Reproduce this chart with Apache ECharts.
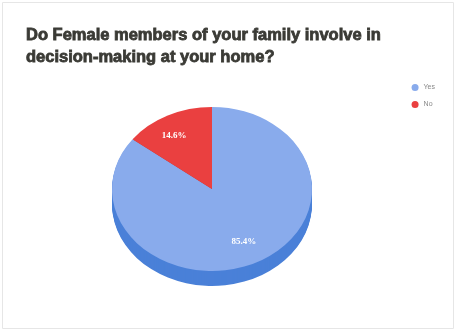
<!DOCTYPE html>
<html>
<head>
<meta charset="utf-8">
<script src="https://cdn.jsdelivr.net/npm/echarts@6/dist/echarts.min.js"></script>
<style>
html, body { margin: 0; padding: 0; background: #fff; }
#main { width: 456px; height: 331px; }
</style>
</head>
<body>
<div id="main"></div>
<script>
var categories = ['Yes', 'No'];
var shares = [85.4, 14.6];
var labels = ['85.4%', '14.6%'];

var colors = ['#89abec', '#ea4040'];
var sideColors = ['#4a80d8', '#b83030'];

var chart = echarts.init(document.getElementById('main'));

var cx = 212, cy = 189, r = 100, squash = 0.82, depth = 15;
var total = shares.reduce(function (a, b) { return a + b; }, 0);

// angles go counterclockwise from 12 o'clock, 'No' first
function sliceAngles(idx) {
    var order = [1, 0];
    var start = -Math.PI / 2;
    for (var k = 0; k < order.length; k++) {
        var span = shares[order[k]] / total * Math.PI * 2;
        if (order[k] === idx) {
            return [start, start - span];
        }
        start -= span;
    }
}

function makeSeries(idx) {
    return {
        type: 'custom',
        name: categories[idx],
        coordinateSystem: 'none',
        itemStyle: { color: colors[idx] },
        data: [shares[idx]],
        renderItem: function (params, api) {
            var a = sliceAngles(idx);
            var kids = [];
            for (var d = depth; d >= 1; d--) {
                kids.push({
                    type: 'sector',
                    z2: 0,
                    shape: { cx: cx, cy: cy + d / squash, r: r, startAngle: a[0], endAngle: a[1], clockwise: false },
                    scaleY: squash, originX: cx, originY: cy,
                    style: { fill: sideColors[idx] }
                });
            }
            kids.push({
                type: 'sector',
                z2: 10,
                shape: { cx: cx, cy: cy, r: r, startAngle: a[0], endAngle: a[1], clockwise: false },
                scaleY: squash, originX: cx, originY: cy,
                style: { fill: colors[idx] }
            });
            var mid = (a[0] + a[1]) / 2;
            var lr = r * 0.72;
            kids.push({
                type: 'text',
                z2: 20,
                x: cx + Math.cos(mid) * lr - (idx === 1 ? 6 : 0),
                y: cy + Math.sin(mid) * lr * squash,
                style: {
                    text: labels[idx], fill: '#fff', fontSize: 9, fontWeight: 'bold',
                    fontFamily: 'Liberation Serif', align: 'center', verticalAlign: 'middle'
                }
            });
            return { type: 'group', children: kids };
        }
    };
}

chart.setOption({
    backgroundColor: '#fff',
    animation: false,
    title: {
        text: 'Do Female members of your family involve in\ndecision-making at your home?',
        left: 21,
        top: 20,
        textStyle: {
            fontFamily: 'Liberation Sans',
            fontSize: 16.5,
            fontWeight: 'bold',
            color: '#3a3a35',
            textBorderColor: '#3a3a35',
            textBorderWidth: 0.8,
            lineHeight: 21.5
        }
    },
    legend: {
        orient: 'vertical',
        right: 16,
        top: 79,
        icon: 'circle',
        itemWidth: 7,
        itemHeight: 7,
        itemGap: 10,
        data: categories,
        textStyle: { fontSize: 7, color: '#888', fontFamily: 'Liberation Sans' }
    },
    graphic: [{
        type: 'rect',
        shape: { x: 2.5, y: 2.5, width: 451, height: 326 },
        style: { fill: 'none', stroke: '#e6e6e6', lineWidth: 1 },
        silent: true
    }],
    series: [makeSeries(0), makeSeries(1)]
});
</script>
</body>
</html>
